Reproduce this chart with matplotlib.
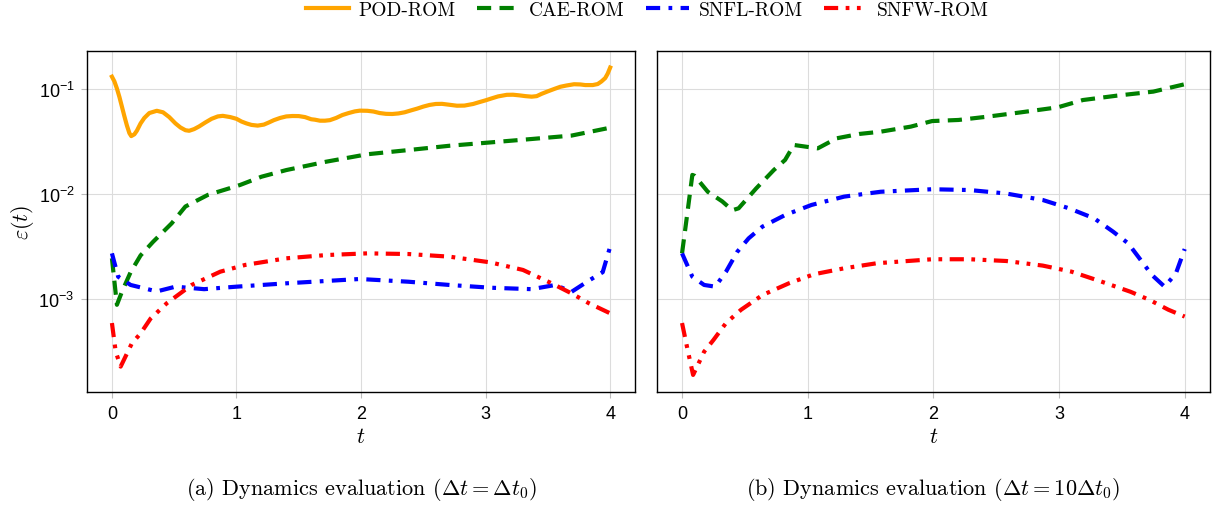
import numpy as np
import matplotlib
matplotlib.use("Agg")
import matplotlib.pyplot as plt
from matplotlib.ticker import NullLocator, FixedLocator

plt.rcParams['font.family'] = ['Liberation Sans', 'DejaVu Sans']
plt.rcParams['mathtext.fontset'] = 'custom'
plt.rcParams['mathtext.rm'] = 'Liberation Sans'
plt.rcParams['mathtext.it'] = 'Liberation Sans:italic'

# ---- data ----
# (a) dt = dt0
pod_t = [0, 0.02, 0.04, 0.06, 0.08, 0.1, 0.12, 0.14, 0.155, 0.18, 0.2, 0.23, 0.26, 0.3, 0.36,
         0.41, 0.46, 0.51, 0.55, 0.59, 0.62, 0.66, 0.7, 0.75, 0.8, 0.85, 0.89, 0.95, 1.0, 1.04,
         1.08, 1.12, 1.17, 1.22, 1.26, 1.3, 1.35, 1.4, 1.45, 1.5, 1.55, 1.6, 1.63, 1.67, 1.71,
         1.75, 1.8, 1.85, 1.9, 1.95, 1.99, 2.05, 2.1, 2.15, 2.2, 2.25, 2.3, 2.35, 2.4, 2.45,
         2.5, 2.55, 2.6, 2.65, 2.7, 2.77, 2.83, 2.9, 2.95, 3.0, 3.05, 3.1, 3.17, 3.22, 3.27,
         3.32, 3.37, 3.41, 3.45, 3.5, 3.55, 3.6, 3.65, 3.71, 3.76, 3.8, 3.86, 3.9, 3.93, 3.96,
         3.98, 4.0]
pod_a = [0.131, 0.118, 0.101, 0.084, 0.068, 0.055, 0.045, 0.038, 0.0356, 0.037, 0.040, 0.047,
         0.053, 0.059, 0.062, 0.060, 0.054, 0.047, 0.043, 0.0405, 0.040, 0.0415, 0.044, 0.048,
         0.052, 0.0548, 0.0555, 0.054, 0.052, 0.049, 0.047, 0.0455, 0.0448, 0.0458, 0.048,
         0.0505, 0.053, 0.0548, 0.0553, 0.0552, 0.054, 0.0515, 0.051, 0.0499, 0.0499, 0.0505,
         0.053, 0.0565, 0.059, 0.0612, 0.0622, 0.062, 0.061, 0.059, 0.058, 0.0578, 0.0585,
         0.060, 0.0625, 0.065, 0.068, 0.0705, 0.072, 0.0722, 0.071, 0.0693, 0.0695, 0.072,
         0.075, 0.078, 0.0815, 0.085, 0.088, 0.0882, 0.087, 0.0855, 0.0845, 0.0855, 0.090,
         0.095, 0.100, 0.105, 0.108, 0.111, 0.1105, 0.109, 0.109, 0.1115, 0.118, 0.127, 0.140,
         0.160]

cae_ta = [0, 0.04, 0.08, 0.15, 0.23, 0.33, 0.48, 0.59, 0.77, 0.94, 1.03, 1.2, 1.4, 1.72,
          2.05, 2.38, 2.71, 3.04, 3.37, 3.69, 4.0]
cae_a = [0.00244, 0.00088, 0.00117, 0.0018, 0.0026, 0.0035, 0.00526, 0.0076, 0.0098,
         0.0113, 0.0122, 0.0146, 0.0169, 0.0203, 0.0239, 0.0262, 0.0288, 0.0310, 0.0334,
         0.036, 0.0428]

snfl_ta = [0, 0.05, 0.15, 0.36, 0.51, 0.74, 1.0, 1.4, 1.99, 2.38, 2.71, 3.04, 3.37, 3.56,
           3.69, 3.83, 3.94, 4.0]
snfl_a = [0.00272, 0.00163, 0.00136, 0.00118, 0.00131, 0.00124, 0.00131, 0.00141, 0.00155,
          0.00146, 0.00136, 0.00128, 0.00124, 0.00136, 0.00117, 0.0015, 0.0018, 0.00315]

snfw_ta = [0, 0.03, 0.07, 0.16, 0.23, 0.31, 0.44, 0.64, 0.87, 1.07, 1.4, 1.72, 2.05, 2.38,
           2.71, 3.04, 3.3, 3.53, 3.69, 3.83, 4.0]
snfw_a = [0.00059, 0.000316, 0.000227, 0.000378, 0.00047, 0.00065, 0.00091, 0.00136,
          0.00182, 0.00211, 0.00244, 0.00262, 0.00272, 0.00268, 0.00253, 0.00223, 0.00189,
          0.00141, 0.00113, 0.00091, 0.00073]

# (b) dt = 10 dt0
cae_tb = [0, 0.044, 0.082, 0.10, 0.205, 0.32, 0.40, 0.45, 0.59, 0.73, 0.82, 0.89, 1.08,
          1.23, 1.41, 1.58, 1.82, 1.99, 2.2, 2.43, 2.7, 2.99, 3.19, 3.46, 3.75, 4.0]
cae_b = [0.00272, 0.0068, 0.0152, 0.0149, 0.0105, 0.0085, 0.0070, 0.0073, 0.0113, 0.0169,
         0.0211, 0.0293, 0.0272, 0.0339, 0.0373, 0.0392, 0.0438, 0.0495, 0.0507, 0.0545,
         0.060, 0.0669, 0.0785, 0.0864, 0.0944, 0.111]

snfl_tb = [0, 0.082, 0.176, 0.264, 0.35, 0.44, 0.53, 0.64, 0.82, 1.03, 1.29, 1.58, 1.99,
           2.29, 2.58, 2.87, 3.08, 3.28, 3.43, 3.55, 3.63, 3.74, 3.84, 3.93, 4.0]
snfl_b = [0.00272, 0.00163, 0.00136, 0.00131, 0.00182, 0.00282, 0.00378, 0.00489, 0.0063,
          0.00786, 0.00944, 0.0105, 0.0111, 0.0109, 0.0101, 0.00877, 0.0073, 0.00586,
          0.00438, 0.00339, 0.00253, 0.00169, 0.00131, 0.00175, 0.00299]

snfw_tb = [0, 0.044, 0.088, 0.176, 0.25, 0.35, 0.47, 0.64, 0.85, 1.05, 1.29, 1.55, 1.99,
           2.29, 2.58, 2.87, 3.1, 3.34, 3.57, 3.72, 3.87, 4.0]
snfw_b = [0.00059, 0.00033, 0.000189, 0.000315, 0.000407, 0.00059, 0.00079, 0.00109,
          0.00141, 0.00172, 0.00196, 0.00219, 0.00239, 0.00239, 0.0023, 0.00208, 0.00182,
          0.00146, 0.00117, 0.00098, 0.00079, 0.00068]

labels = ['POD-ROM', 'CAE-ROM', 'SNFL-ROM', 'SNFW-ROM']
colors = ['#FFA500', '#008000', '#0000FF', '#FF0000']
styles = ['-', (0, (3.4, 2.0)), (0, (3.4, 2.0, 0.9, 2.0)), (0, (3.4, 1.8, 0.9, 1.8, 0.9, 1.8))]
captions = [r'(a) Dynamics evaluation ($\Delta t = \Delta t_0$)',
            r'(b) Dynamics evaluation ($\Delta t = 10\Delta t_0$)']

fig = plt.figure(figsize=(12.12, 5.06), dpi=100)
ax1 = fig.add_axes([0.0718, 0.2233, 0.4522, 0.6739])
ax2 = fig.add_axes([0.542, 0.2233, 0.4562, 0.6739], sharey=ax1)

lw = 3.0
ax1.plot(pod_t, pod_a, color=colors[0], ls=styles[0], lw=lw, label=labels[0])
ax1.plot(cae_ta, cae_a, color=colors[1], ls=styles[1], lw=lw, label=labels[1])
ax1.plot(snfl_ta, snfl_a, color=colors[2], ls=styles[2], lw=lw, label=labels[2])
ax1.plot(snfw_ta, snfw_a, color=colors[3], ls=styles[3], lw=lw, label=labels[3])

ax2.plot(cae_tb, cae_b, color=colors[1], ls=styles[1], lw=lw)
ax2.plot(snfl_tb, snfl_b, color=colors[2], ls=styles[2], lw=lw)
ax2.plot(snfw_tb, snfw_b, color=colors[3], ls=styles[3], lw=lw)

for i, ax in enumerate([ax1, ax2]):
    ax.set_yscale('log')
    ax.set_ylim(1.3e-4, 0.23)
    ax.set_xlim(-0.2, 4.2)
    ax.set_xticks([0, 1, 2, 3, 4])
    ax.yaxis.set_major_locator(FixedLocator([1e-3, 1e-2, 1e-1]))
    ax.yaxis.set_minor_locator(NullLocator())
    ax.grid(True, color='#dcdcdc', lw=0.8)
    ax.tick_params(length=4, color='#bbbbbb', labelsize=13, direction='out', pad=5)
    for sp in ax.spines.values():
        sp.set_linewidth(1.0)
    ax.set_xlabel(r'$t$', fontsize=16, math_fontfamily='cm', labelpad=3)
    xc = (ax.get_position().x0 + ax.get_position().x1) / 2
    fig.text(xc, 0.032, captions[i], ha='center', va='center', fontsize=16,
             family='cmr10', math_fontfamily='cm')

ax1.set_ylabel(r'$\varepsilon(t)$', fontsize=16, math_fontfamily='cm', labelpad=2)
plt.setp(ax2.get_yticklabels(), visible=False)
ax2.tick_params(axis='y', length=0)

fig.legend(loc='upper center', bbox_to_anchor=(0.534, 1.03), ncol=4, frameon=False,
           prop={'family': 'cmr10', 'size': 14}, handlelength=2.2, columnspacing=1.1,
           handletextpad=0.5)

fig.savefig('out.png', dpi=100)
